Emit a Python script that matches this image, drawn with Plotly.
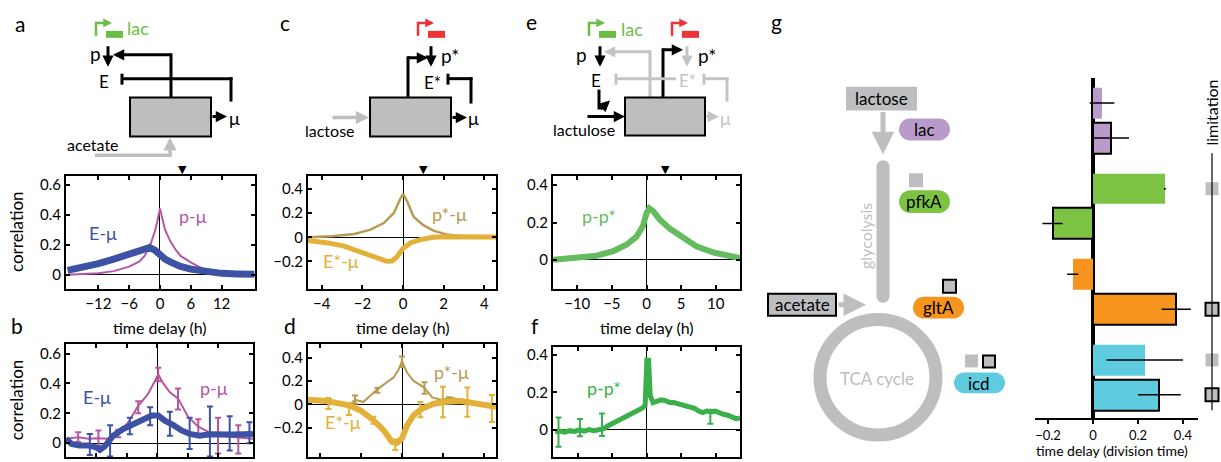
import plotly.graph_objects as go

W, H = 1221, 462
FONT = "Lato"

# ---------------- data ----------------
# panel a (model)
a_E_t = [-18, -15, -12, -9, -6, -4, -3, -2.5, -2, -1, 0, 1, 2, 3, 4, 6, 8, 10, 12, 15, 18.4]
a_E_v = [0.03, 0.05, 0.075, 0.105, 0.14, 0.168, 0.18, 0.185, 0.183, 0.165, 0.13, 0.105, 0.087, 0.07, 0.056, 0.038, 0.025, 0.017, 0.01, 0.006, 0.004]
a_p_t = [-18, -15, -12, -9, -6, -4, -3, -2, -1, -0.5, 0, 0.5, 1, 2, 3, 4, 6, 8, 10, 12, 15, 18.4]
a_p_v = [0.0, 0.003, 0.01, 0.025, 0.055, 0.09, 0.127, 0.19, 0.29, 0.36, 0.445, 0.37, 0.30, 0.226, 0.17, 0.127, 0.083, 0.046, 0.022, 0.01, 0.003, 0.0]
a_marker = 4.3

# panel b (experiment)
b_E_t = [-18, -16.9, -15.3, -13.3, -12, -11.3, -10.3, -8.7, -6.7, -4.7, -2.8, -1.1, 0.2, 1.5, 3.2, 4.8, 6.4, 8.4, 10.4, 12.4, 15, 18.9]
b_E_v = [0.03, -0.005, -0.015, -0.015, -0.03, -0.045, -0.02, 0.05, 0.095, 0.13, 0.16, 0.185, 0.185, 0.15, 0.12, 0.085, 0.062, 0.05, 0.06, 0.058, 0.058, 0.062]
b_E_err_t = [-13.3, -9.3, -5.4, -1.4, 2.5, 6.4, 10.4, 14.3, 18.2]
b_E_err_c = [-0.015, 0.015, 0.115, 0.18, 0.13, 0.065, 0.06, 0.06, 0.06]
b_E_err_up = [0.077, 0.105, 0.055, 0.06, 0.08, 0.105, 0.185, 0.12, 0.08]
b_E_err_dn = [0.065, 0.105, 0.055, 0.06, 0.08, 0.105, 0.15, 0.11, 0.06]
b_p_t = [-18, -15.6, -13.6, -11.6, -9.7, -7.7, -5.7, -3.75, -1.8, -0.46, 0.2, 1.2, 2.5, 4.1, 6.1, 8.1, 10.1, 12, 14, 16, 18.9]
b_p_v = [0.03, 0.04, 0.03, 0.033, 0.03, 0.062, 0.14, 0.25, 0.33, 0.42, 0.46, 0.40, 0.34, 0.30, 0.175, 0.11, 0.075, 0.05, 0.045, 0.035, 0.03]
b_p_err_t = [-15.6, -11.6, -7.7, -3.75, 0.2, 4.1, 8.1, 12, 16]
b_p_err_c = [0.04, 0.033, 0.065, 0.24, 0.46, 0.295, 0.11, 0.05, 0.035]
b_p_err_up = [0.033, 0.052, 0.025, 0.04, 0.045, 0.07, 0.05, 0.12, 0.085]
b_p_err_dn = [0.033, 0.048, 0.025, 0.04, 0.045, 0.07, 0.05, 0.12, 0.105]

# panel c (model)
c_p_t = [-4.68, -3.5, -2.4, -1.6, -0.95, -0.46, -0.13, 0, 0.2, 0.52, 1.0, 1.5, 2.16, 3.1, 4.58]
c_p_v = [0.0, 0.008, 0.027, 0.063, 0.118, 0.2, 0.32, 0.36, 0.3, 0.17, 0.1, 0.055, 0.022, 0.005, 0.0]
c_E_t = [-4.68, -3.7, -2.9, -2.1, -1.44, -0.8, -0.54, -0.3, 0, 0.36, 0.85, 1.5, 2.16, 3, 4.58]
c_E_v = [-0.027, -0.047, -0.074, -0.12, -0.164, -0.2, -0.197, -0.164, -0.093, -0.047, -0.02, 0.0, 0.005, 0.005, 0.003]
c_marker = 1.0

# panel d (experiment)
d_E_t = [-4.6, -3.7, -2.6, -2.05, -1.4, -0.9, -0.5, -0.25, 0, 0.25, 0.57, 0.98, 1.56, 2.05, 2.87, 3.5, 4.2, 4.6]
d_E_v = [0.04, 0.028, -0.008, -0.05, -0.135, -0.22, -0.32, -0.33, -0.29, -0.18, -0.093, -0.037, 0.006, 0.02, 0.028, 0.011, -0.008, -0.02]
d_E_err_t = [-3.6, -2.6, -1.4, -0.33, 0.9, 2.0, 3.2, 4.4]
d_E_err_c = [0.02, -0.01, -0.135, -0.33, -0.04, 0.02, 0.02, -0.02]
d_E_err_up = [0.035, 0.02, 0.03, 0.03, 0.06, 0.13, 0.125, 0.1]
d_E_err_dn = [0.06, 0.08, 0.03, 0.06, 0.07, 0.13, 0.125, 0.13]
d_p_t = [-2.6, -2.3, -1.9, -1.23, -0.74, -0.41, -0.16, 0, 0.25, 0.57, 1.07, 1.48, 1.9, 2.4, 2.7]
d_p_v = [-0.01, 0.04, 0.02, 0.124, 0.19, 0.23, 0.3, 0.37, 0.27, 0.2, 0.146, 0.06, 0.04, 0.056, 0.045]
d_p_err_t = [-2.3, -1.2, 0, 1.1, 2.3]
d_p_err_c = [0.04, 0.12, 0.365, 0.14, 0.05]
d_p_err = [0.035, 0.02, 0.045, 0.05, 0.01]

# panel e (model)
e_t = [-13.5, -10.1, -7.2, -4.8, -2.9, -1.45, -0.5, 0, 0.4, 1, 1.9, 3.4, 5.3, 7.2, 9.7, 12.1, 13.5]
e_v = [0, 0.008, 0.022, 0.047, 0.081, 0.124, 0.183, 0.25, 0.276, 0.26, 0.217, 0.166, 0.115, 0.073, 0.039, 0.017, 0.01]
e_marker = 2.7

# panel f (experiment)
f_t = [-13.3, -12.6, -11.9, -11.2, -10.5, -9.8, -9.1, -8.4, -7.7, -7.0, -6.3, -5.6, -4.9, -4.2, -3.5, -2.8, -2.1, -1.4, -0.7, -0.25,
       0, 0.25, 0.5, 0.9, 1.5, 2.1, 2.7, 3.3, 3.9, 4.5, 5.1, 5.7, 6.3, 6.9, 7.5, 8.1, 8.7, 9.3, 9.9, 10.5, 11.1, 11.7, 12.3, 12.9, 13.5]
f_v = [-0.01, -0.006, -0.012, -0.004, -0.008, 0.0, -0.006, 0.002, -0.004, 0.004, 0.006, 0.022, 0.035, 0.045, 0.06, 0.075, 0.09, 0.1, 0.115, 0.13,
       0.37, 0.37, 0.18, 0.145, 0.15, 0.16, 0.155, 0.145, 0.145, 0.138, 0.135, 0.125, 0.12, 0.115, 0.1, 0.092, 0.1, 0.095, 0.1, 0.088, 0.083, 0.078, 0.07, 0.06, 0.063]
f_err_t = [-12.8, -9.7, -6.5, 9.2]
f_err_c = [-0.012, 0.012, 0.027, 0.07]
f_err = [0.078, 0.046, 0.06, 0.037]

# panel g (bars)
g_genes = ["lac", "lac", "pfkA", "pfkA", "gltA", "gltA", "icd", "icd"]
g_acetate = [False, True, False, True, False, True, False, True]
g_delay = [0.04, 0.08, 0.32, -0.18, -0.09, 0.37, 0.23, 0.295]
g_err = [0.055, 0.08, 0.005, 0.045, 0.025, 0.065, 0.17, 0.095]
g_limit_rows = [2, 5, 6, 7]
g_limit_acetate = [False, True, False, True]

# x tick labels
a_xt = [-12, -6, 0, 6, 12]
c_xt = [-4, -2, 0, 2, 4]
e_xt = [-10, -5, 0, 5, 10]

# ---------------- styles ----------------
BLUE = "#3d52a4"
MAG = "#b557a3"
GOLD_T = "#b89b52"
GOLD = "#e2b13a"
GREEN_E = "#64bc5f"
GREEN_F = "#3bb04a"
GRAY = "#bcbec0"
LGRAY = "#c2c4c6"
PGREEN = "#6cbd45"
RED = "#ee3338"
GENE_COL = {"lac": "#b99bc9", "pfkA": "#7cc243", "gltA": "#f7941d", "icd": "#5fcbde"}


def lab(v):
    s = ("%g" % v)
    return s.replace("-", "\u2212")


fig = go.Figure()

doms = {
    1: ((66, 255), (175, 288)),
    2: ((66, 253), (343, 457)),
    3: ((308, 496), (175, 288)),
    4: ((308, 496), (343, 457)),
    5: ((553, 740), (175, 288)),
    6: ((553, 740), (346, 457)),
}
ranges = {
    1: ([-18.3, 18.5], [-0.093, 0.66]),
    2: ([-18.0, 18.9], [-0.093, 0.667]),
    3: ([-4.68, 4.58], [-0.428, 0.507]),
    4: ([-4.6, 4.6], [-0.45, 0.52]),
    5: ([-13.5, 13.5], [-0.155, 0.448]),
    6: ([-13.6, 13.5], [-0.144, 0.443]),
}
xticks = {1: a_xt, 2: a_xt, 3: c_xt, 4: c_xt, 5: e_xt, 6: e_xt}
yticks = {1: [0, 0.2, 0.4, 0.6], 2: [0, 0.2, 0.4, 0.6], 3: [-0.2, 0, 0.2, 0.4], 4: [-0.2, 0, 0.2, 0.4],
          5: [0, 0.2, 0.4], 6: [0, 0.2, 0.4]}

layout = {}
for n in range(1, 7):
    (x0, x1), (y0, y1) = doms[n]
    xr, yr = ranges[n]
    common = dict(showline=True, mirror="ticks", linecolor="black", linewidth=2, ticks="inside", ticklen=4,
                  tickwidth=1.5, tickcolor="black", showgrid=False, zeroline=True, zerolinecolor="black",
                  zerolinewidth=1, tickfont=dict(size=15, color="black", family=FONT), fixedrange=True)
    xk = "xaxis" if n == 1 else f"xaxis{n}"
    yk = "yaxis" if n == 1 else f"yaxis{n}"
    layout[xk] = dict(domain=[x0 / W, x1 / W], range=xr, anchor=("y" if n == 1 else f"y{n}"),
                      tickvals=xticks[n], ticktext=[lab(v) for v in xticks[n]],
                      showticklabels=(n % 2 == 1), **common)
    layout[yk] = dict(domain=[1 - y1 / H, 1 - y0 / H], range=yr, anchor=("x" if n == 1 else f"x{n}"),
                      tickvals=yticks[n], ticktext=[lab(v) for v in yticks[n]], **common)


def ax(n):
    return ("x" if n == 1 else f"x{n}"), ("y" if n == 1 else f"y{n}")


def add_line(n, t, v, color, width):
    xa, ya = ax(n)
    fig.add_trace(go.Scatter(x=t, y=v, mode="lines", line=dict(color=color, width=width),
                             xaxis=xa, yaxis=ya, showlegend=False, hoverinfo="skip"))


def add_err(n, t, c, up, dn, color, thick=2):
    xa, ya = ax(n)
    fig.add_trace(go.Scatter(x=t, y=c, mode="markers", marker=dict(size=2, color=color),
                             error_y=dict(type="data", array=up, arrayminus=dn, color=color, thickness=thick, width=3),
                             xaxis=xa, yaxis=ya, showlegend=False, hoverinfo="skip"))


# a
add_line(1, a_p_t, a_p_v, MAG, 2)
add_line(1, a_E_t, a_E_v, BLUE, 7)
# b
add_line(2, b_p_t, b_p_v, MAG, 2)
add_err(2, b_p_err_t, b_p_err_c, b_p_err_up, b_p_err_dn, MAG)
add_line(2, b_E_t, b_E_v, BLUE, 6)
add_err(2, b_E_err_t, b_E_err_c, b_E_err_up, b_E_err_dn, BLUE)
# c
add_line(3, c_p_t, c_p_v, GOLD_T, 2.5)
add_line(3, c_E_t, c_E_v, GOLD, 5)
# d
add_line(4, d_p_t, d_p_v, GOLD_T, 2)
add_err(4, d_p_err_t, d_p_err_c, d_p_err, d_p_err, GOLD_T)
add_line(4, d_E_t, d_E_v, GOLD, 6)
add_err(4, d_E_err_t, d_E_err_c, d_E_err_up, d_E_err_dn, GOLD)
# e
add_line(5, e_t, e_v, GREEN_E, 6)
# f
add_line(6, f_t, f_v, GREEN_F, 5)
add_err(6, f_err_t, f_err_c, f_err, f_err, GREEN_F)

# g bars
BAR_TOP, BAR_BOT = 76, 418
pos = [i // 2 + (i % 2) * 0.407 for i in range(len(g_delay))]
fig.add_trace(go.Bar(x=g_delay, y=pos, orientation="h", width=0.36,
                     marker=dict(color=[GENE_COL[g] for g in g_genes],
                                 line=dict(color="black", width=[2 if a else 0 for a in g_acetate])),
                     error_x=dict(type="data", array=g_err, color="black", thickness=1.5, width=0),
                     xaxis="x7", yaxis="y7", showlegend=False, hoverinfo="skip"))
layout["xaxis7"] = dict(domain=[1035 / W, 1198 / W], range=[-0.258, 0.467], anchor="y7",
                        tickvals=[-0.2, 0, 0.2, 0.4], ticktext=[lab(v) for v in [-0.2, 0, 0.2, 0.4]],
                        ticks="outside", ticklen=4, tickwidth=2, tickcolor="black", showline=True, linewidth=2,
                        linecolor="black", showgrid=False, zeroline=True, zerolinewidth=4, zerolinecolor="black",
                        tickfont=dict(size=13, color="black", family=FONT), fixedrange=True)
layout["yaxis7"] = dict(domain=[1 - BAR_BOT / H, 1 - BAR_TOP / H], range=[3.68, -0.297], anchor="x7",
                        visible=False, fixedrange=True)
# limitation markers
fig.add_trace(go.Scatter(x=[0.5] * len(g_limit_rows), y=[pos[r] for r in g_limit_rows], mode="markers",
                         marker=dict(symbol="square", size=13, color=GRAY,
                                     line=dict(color="black", width=[2 if a else 0 for a in g_limit_acetate])),
                         xaxis="x8", yaxis="y7", showlegend=False, hoverinfo="skip", cliponaxis=False))
layout["xaxis8"] = dict(domain=[1203 / W, 1221 / W], range=[0, 1], anchor="y7", visible=False, fixedrange=True)

# overlay pixel axis for drawings
fig.add_trace(go.Scatter(x=[0], y=[0], mode="markers", marker=dict(opacity=0), xaxis="x9", yaxis="y9",
                         showlegend=False, hoverinfo="skip"))
layout["xaxis9"] = dict(domain=[0, 1], range=[0, W], anchor="y9", visible=False, fixedrange=True)
layout["yaxis9"] = dict(domain=[0, 1], range=[H, 0], anchor="x9", visible=False, fixedrange=True)

shapes = []
annots = []


def line(x0, y0, x1, y1, color="black", w=3):
    shapes.append(dict(type="line", xref="x9", yref="y9", x0=x0, y0=y0, x1=x1, y1=y1,
                       line=dict(color=color, width=w), layer="above"))


def arrow(x0, y0, x1, y1, color="black", w=3, size=0.75):
    annots.append(dict(xref="x9", yref="y9", axref="x9", ayref="y9", x=x1, y=y1, ax=x0, ay=y0, text="",
                       showarrow=True, arrowhead=2, arrowsize=size, arrowwidth=w, arrowcolor=color, standoff=0))


def text(x, y, s, size=16, color="black", **kw):
    annots.append(dict(xref="x9", yref="y9", x=x, y=y, text=s, showarrow=False,
                       font=dict(size=size, color=color, family=FONT), **kw))


def rect(x0, y0, x1, y1, fill, lc=None, lw=0):
    shapes.append(dict(type="rect", xref="x9", yref="y9", x0=x0, y0=y0, x1=x1, y1=y1, fillcolor=fill,
                       line=dict(color=lc if lc else fill, width=lw), layer="above"))


def rrect(x0, y0, x1, y1, fill, r=None):
    if r is None:
        r = min(x1 - x0, y1 - y0) / 2
    k = 0.5523 * r
    p = (f"M{x0+r},{y0} L{x1-r},{y0} C{x1-r+k},{y0} {x1},{y0+r-k} {x1},{y0+r} "
         f"L{x1},{y1-r} C{x1},{y1-r+k} {x1-r+k},{y1} {x1-r},{y1} "
         f"L{x0+r},{y1} C{x0+r-k},{y1} {x0},{y1-r+k} {x0},{y1-r} "
         f"L{x0},{y0+r} C{x0},{y0+r-k} {x0+r-k},{y0} {x0+r},{y0} Z")
    shapes.append(dict(type="path", xref="x9", yref="y9", path=p, fillcolor=fill, line=dict(width=0),
                       layer="above"))


def promoter(x, y_low, color):
    line(x, y_low, x, 19.8, color, 2.5)
    arrow(x - 1.2, 21, x + 16, 21, color, 2.5, 0.7)
    rect(x + 10, 29, x + 27, 36, color)


# ----- panel a schematic -----
promoter(96, 34, PGREEN)
text(138, 26, "lac", 18, PGREEN)
text(95, 52, "p", 19)
arrow(108, 43, 108, 65)
line(171, 97, 171, 51.5)
arrow(172.5, 53, 113, 53)
text(104, 80, "E", 17)
line(122, 72, 122, 83)
line(122, 77, 232.5, 77)
line(231, 75.5, 231, 100)
rect(130, 96, 211, 135, GRAY, "black", 2)
arrow(211, 115, 227, 115)
text(234, 116, "μ", 18)
text(93, 143, "acetate", 16)
line(95, 154, 171.7, 154, GRAY, 3.5)
arrow(170, 155.7, 170, 136, GRAY, 3.5)

# ----- panel c schematic -----
promoter(418, 34, RED)
line(408, 97, 408, 54.5)
arrow(406.5, 56, 428, 56)
arrow(431, 43, 431, 65)
text(450, 54, "p*", 19)
text(432, 81, "E*", 17)
line(448, 72, 448, 83)
line(448, 77, 472.5, 77)
line(471, 75.5, 471, 102)
rect(370, 96, 451, 135, GRAY, "black", 2)
arrow(451, 116, 467, 116)
text(473, 117, "μ", 18)
arrow(331, 116, 369, 116, GRAY, 3.5)
text(330, 129, "lactose", 16)

# ----- panel e schematic -----
promoter(589, 34, PGREEN)
text(632, 27, "lac", 18, PGREEN)
promoter(672, 34, RED)
text(581, 53, "p", 19)
arrow(600, 43, 600, 65)
line(650, 97, 650, 48.5, LGRAY)
arrow(651.5, 50, 604, 50, LGRAY)
line(663, 97, 663, 46.5)
arrow(661.5, 48, 683, 48)
arrow(687, 43, 687, 65, LGRAY)
text(707, 54, "p*", 19)
text(596, 79, "E", 17)
line(616, 72, 616, 83, LGRAY)
line(616, 77, 676, 77, LGRAY)
text(687, 79, "E*", 17, LGRAY)
line(704, 72, 704, 83, LGRAY)
line(704, 77, 728.5, 77, LGRAY)
line(727, 75.5, 727, 100, LGRAY)
rect(625, 96, 705, 134, GRAY, "black", 2)
arrow(705, 115, 719, 115, LGRAY)
text(725, 116, "μ", 18, LGRAY)
arrow(586, 115, 625, 115)
text(584, 128, "lactulose", 16)
line(599, 88, 599, 108)
arrow(599, 109, 610, 99)

# ----- panel g diagram -----
rect(846, 85, 917, 109, GRAY)
text(881, 97, "lactose", 17)
arrow(883, 109, 883, 153, GRAY, 5, 0.9)
rrect(899, 117, 950, 139, GENE_COL["lac"])
text(924, 128, "lac", 17)
rrect(876.5, 159, 889.5, 302, GRAY)
text(866, 235, "glycolysis", 16, GRAY, textangle=-90)
rect(909, 172, 923, 186, GRAY)
rrect(899, 189, 950, 212, GENE_COL["pfkA"])
text(924, 200, "pfkA", 17)
rect(943, 279, 956, 292, GRAY, "black", 2)
rrect(913, 296, 964, 318, GENE_COL["gltA"])
text(938, 307, "gltA", 17)
rect(768, 293, 836, 315, GRAY, "black", 2)
text(802, 304, "acetate", 17)
arrow(837, 304, 866, 304, GRAY, 5, 0.9)
shapes.append(dict(type="circle", xref="x9", yref="y9", x0=878 - 58, x1=878 + 58, y0=377 - 58, y1=377 + 58,
                   line=dict(color=GRAY, width=13), layer="above"))
text(877, 378, "TCA cycle", 17, GRAY)
rect(965, 354, 978, 367, GRAY)
rect(983, 355, 995, 367, GRAY, "black", 2)
rrect(954, 372, 1005, 393, GENE_COL["icd"])
text(979, 383, "icd", 17)

# limitation column
line(1212, 152, 1212, 410, "black", 1.2)
text(1212, 111, "limitation", 16, textangle=-90)
text(1112, 450, "time delay (division time)", 14)

# ----- axis titles & labels -----
for (x, y, s) in [(20, 22, "a"), (17, 325, "b"), (285, 21, "c"), (290, 325, "d"), (531, 20, "e"),
                  (535, 325, "f"), (776, 20, "g")]:
    text(x, y, s, 21)
text(16, 231, "correlation", 17, textangle=-90)
text(16, 400, "correlation", 17, textangle=-90)
for x in [160, 403, 647]:
    text(x, 327, "time delay (h)", 16)

text(103, 232, "E-μ", 18, BLUE)
text(193, 215, "p-μ", 18, MAG)
text(97, 397, "E-μ", 18, BLUE)
text(214, 388, "p-μ", 18, MAG)
text(449, 213, "p*-μ", 18, GOLD_T)
text(341, 260, "E*-μ", 18, GOLD)
text(451, 372, "p*-μ", 18, GOLD_T)
text(343, 422, "E*-μ", 18, GOLD)
text(599, 215, "p-p*", 18, GREEN_E)
text(604, 388, "p-p*", 18, GREEN_F)

# triangle markers above model panels
for n, t in [(1, a_marker), (3, c_marker), (5, e_marker)]:
    annots.append(dict(xref=ax(n)[0], yref="paper", x=t, y=1 - 168 / H, text="▼", showarrow=False,
                       font=dict(size=11, color="black", family="DejaVu Sans")))

fig.update_layout(**layout)
fig.update_layout(width=W, height=H, autosize=False, margin=dict(l=0, r=0, t=0, b=0),
                  paper_bgcolor="white", plot_bgcolor="rgba(0,0,0,0)", showlegend=False,
                  font=dict(family=FONT, color="black"), shapes=shapes, annotations=annots,
                  bargap=0)
fig.write_html("out.html", config={"displayModeBar": False},
               post_script="document.body.style.margin='0px';document.body.style.overflow='hidden';")
